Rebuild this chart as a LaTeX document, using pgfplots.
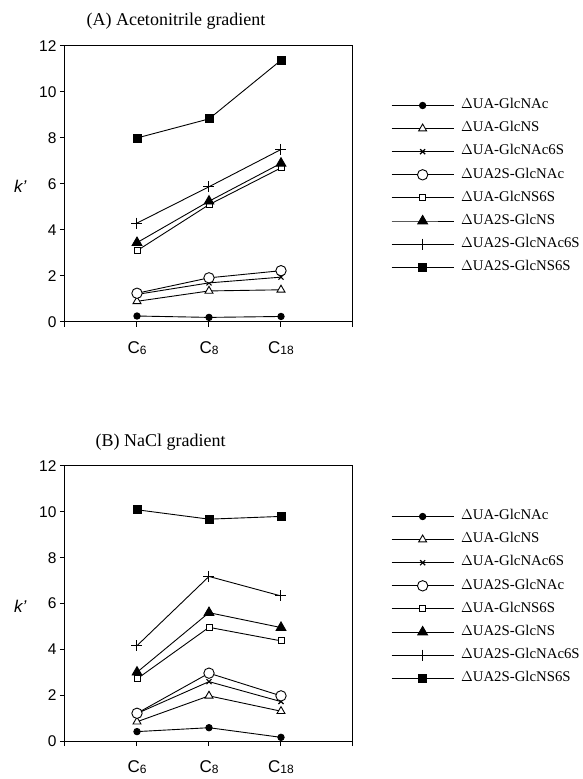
\documentclass[border=0pt]{standalone}
\usepackage{fontspec}
\setmainfont{Liberation Serif}
\setsansfont{Liberation Sans}
\usepackage{pgfplots}
\pgfplotsset{compat=1.18}

% subscript style used on the column names
\newcommand{\Csub}[1]{C{\fontsize{12}{12}\selectfont\raisebox{-1.5pt}{#1}}}

\pgfplotsset{
  kplot/.style={
    scale only axis,
    width=288pt,
    xmin=0, xmax=4, ymin=0, ymax=12,
    xtick={0,1,2,3,4},
    xticklabels={,\Csub{6},\Csub{8},\Csub{18},},
    ytick={0,2,4,6,8,10,12},
    xtick pos=bottom, ytick pos=left,
    tick align=outside,
    major tick length=5pt,
    axis line style={line width=1pt},
    every tick/.style={line width=1pt, black},
    /pgf/number format/assume math mode=true,
    tick label style={font=\sffamily\fontsize{15.5}{15.5}\selectfont},
    xticklabel style={yshift=-11pt, font=\sffamily\fontsize{17}{17}\selectfont},
    ylabel={k'},
    every axis y label/.style={at={(axis description cs:-0.155,0.49)}, anchor=center,
      rotate=0, font=\sffamily\itshape\fontsize{17}{17}\selectfont},
    legend style={draw=none, fill=none, anchor=north west,
      font=\fontsize{14.8}{14.8}\selectfont,
      nodes={inner sep=0pt, text height=9.5pt, text depth=3pt},
      row sep=10.6pt, column sep=7pt},
    legend cell align=left,
    legend image code/.code={%
      \draw[mark repeat=2, mark phase=2] plot coordinates {(0pt,0pt) (31pt,0pt) (62pt,0pt)};},
    every axis plot/.append style={black, line width=0.9pt},
  },
  s1/.style={mark=*, mark size=3.2pt},
  s2/.style={mark=triangle*, mark size=4.6pt, mark options={fill=white, line width=0.9pt}},
  s3/.style={mark=x, mark size=3.5pt, mark options={line width=1.2pt}},
  s4/.style={mark=*, mark size=5.2pt, mark options={fill=white, line width=0.9pt}},
  s5/.style={mark=square*, mark size=3pt, mark options={fill=white, line width=0.9pt}},
  s6/.style={mark=triangle*, mark size=5.6pt},
  s7/.style={mark=+, mark size=5.5pt, mark options={line width=1pt}},
  s8/.style={mark=square*, mark size=4pt},
}

\begin{document}
\begin{tikzpicture}
\path[use as bounding box] (0,0) rectangle (583pt,779pt);

\node[anchor=base west, font=\fontsize{18}{18}\selectfont] at (83pt,753pt) {(A) Acetonitrile gradient};
\node[anchor=base west, font=\fontsize{18}{18}\selectfont] at (92pt,332pt) {(B) NaCl gradient};

% (A) acetonitrile gradient
\begin{axis}[kplot, height=276pt, at={(65pt,457pt)}, anchor=south west,
  legend style={at={(axis description cs:1.1215,0.815)}}]
\addplot[s1] coordinates {(1,0.26) (2,0.20) (3,0.24)};
\addplot[s2] coordinates {(1,0.90) (2,1.35) (3,1.40)};
\addplot[s3] coordinates {(1,1.20) (2,1.70) (3,1.95)};
\addplot[s4] coordinates {(1,1.25) (2,1.92) (3,2.23)};
\addplot[s5] coordinates {(1,3.10) (2,5.10) (3,6.70)};
\addplot[s6] coordinates {(1,3.45) (2,5.25) (3,6.90)};
\addplot[s7] coordinates {(1,4.30) (2,5.88) (3,7.50)};
\addplot[s8] coordinates {(1,8.00) (2,8.83) (3,11.38)};
\legend{$\Delta$UA-GlcNAc,$\Delta$UA-GlcNS,$\Delta$UA-GlcNAc6S,$\Delta$UA2S-GlcNAc,$\Delta$UA-GlcNS6S,$\Delta$UA2S-GlcNS,$\Delta$UA2S-GlcNAc6S,$\Delta$UA2S-GlcNS6S}
\end{axis}

% (B) NaCl gradient
\begin{axis}[kplot, height=275pt, at={(65pt,38pt)}, anchor=south west,
  legend style={at={(axis description cs:1.1215,0.847)}}]
\addplot[s1] coordinates {(1,0.41) (2,0.58) (3,0.16)};
\addplot[s2] coordinates {(1,0.84) (2,1.97) (3,1.30)};
\addplot[s3] coordinates {(1,1.20) (2,2.59) (3,1.72)};
\addplot[s4] coordinates {(1,1.21) (2,2.96) (3,1.97)};
\addplot[s5] coordinates {(1,2.71) (2,4.96) (3,4.37)};
\addplot[s6] coordinates {(1,3.00) (2,5.60) (3,4.95)};
\addplot[s7] coordinates {(1,4.16) (2,7.18) (3,6.33)};
\addplot[s8] coordinates {(1,10.09) (2,9.68) (3,9.80)};
\legend{$\Delta$UA-GlcNAc,$\Delta$UA-GlcNS,$\Delta$UA-GlcNAc6S,$\Delta$UA2S-GlcNAc,$\Delta$UA-GlcNS6S,$\Delta$UA2S-GlcNS,$\Delta$UA2S-GlcNAc6S,$\Delta$UA2S-GlcNS6S}
\end{axis}
\end{tikzpicture}
\end{document}
